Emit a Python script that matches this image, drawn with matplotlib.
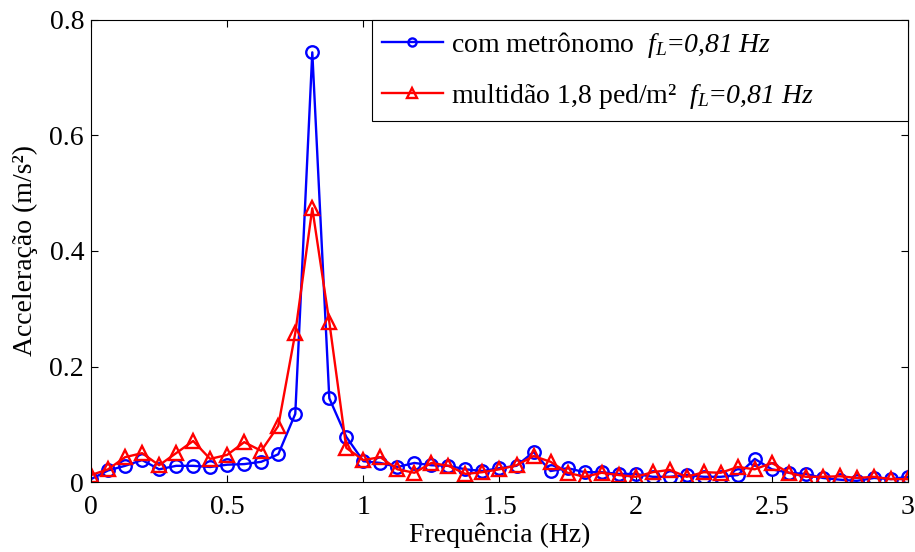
import matplotlib.pyplot as plt
import numpy as np

plt.rcParams['font.family'] = ['Liberation Serif', 'DejaVu Serif']
plt.rcParams['mathtext.fontset'] = 'custom'
plt.rcParams['mathtext.rm'] = 'Liberation Serif'
plt.rcParams['mathtext.it'] = 'Liberation Serif:italic'
# sf slot holds the italic face so that digits come out slanted as well
plt.rcParams['mathtext.sf'] = 'Liberation Serif:italic'

# frequency resolution 1/16 Hz, 0..3 Hz
freq = np.arange(49) * 0.0625

acc_metronomo = [0.005, 0.020, 0.028, 0.038, 0.022, 0.028, 0.028, 0.026, 0.030, 0.031,
                 0.035, 0.048, 0.118, 0.744, 0.145, 0.078, 0.036, 0.033, 0.026, 0.033,
                 0.029, 0.028, 0.022, 0.019, 0.024, 0.028, 0.052, 0.019, 0.024, 0.017,
                 0.017, 0.014, 0.014, 0.009, 0.009, 0.012, 0.009, 0.009, 0.012, 0.040,
                 0.022, 0.016, 0.014, 0.007, 0.004, 0.002, 0.007, 0.005, 0.009]

acc_multidao = [0.012, 0.022, 0.043, 0.050, 0.029, 0.050, 0.071, 0.040, 0.047, 0.069,
                0.054, 0.097, 0.258, 0.474, 0.277, 0.059, 0.038, 0.043, 0.022, 0.016,
                0.033, 0.028, 0.014, 0.017, 0.022, 0.029, 0.045, 0.035, 0.016, 0.009,
                0.016, 0.012, 0.009, 0.017, 0.021, 0.009, 0.017, 0.016, 0.026, 0.022,
                0.033, 0.016, 0.009, 0.009, 0.010, 0.007, 0.009, 0.005, 0.005]

lbl1 = r'com metrônomo  $f_L\!=\!\mathsf{0{,}81\ Hz}$'
lbl2 = r'multidão 1,8 ped/m²  $f_L\!=\!\mathsf{0{,}81\ Hz}$'

fig = plt.figure(figsize=(9.15, 5.52), dpi=100)
ax = fig.add_axes([0.0995, 0.1268, 0.8928, 0.837])

ax.plot(freq, acc_metronomo, '-o', color='blue', lw=1.7, ms=9,
        mfc='none', mew=1.7, label=lbl1)
ax.plot(freq, acc_multidao, '-^', color='red', lw=1.7, ms=10,
        mfc='none', mew=1.7, label=lbl2)

ax.set_xlim(0, 3)
ax.set_ylim(0, 0.8)
ax.set_xticks([0, 0.5, 1, 1.5, 2, 2.5, 3])
ax.set_xticklabels(['0', '0.5', '1', '1.5', '2', '2.5', '3'])
ax.set_yticks([0, 0.2, 0.4, 0.6, 0.8])
ax.set_yticklabels(['0', '0.2', '0.4', '0.6', '0.8'])
ax.tick_params(direction='in', top=True, right=True, labelsize=20, length=5, pad=5)
ax.tick_params(axis='x', pad=9)
ax.set_xlabel('Frequência (Hz)', fontsize=20, labelpad=2)
ax.set_ylabel('Acceleração (m/s²)', fontsize=20, labelpad=8)

leg = ax.legend(loc='upper left', bbox_to_anchor=(0.344, 0, 0.656, 1), mode='expand',
                fontsize=20, handlelength=2.2, handletextpad=0.3, markerscale=0.65,
                fancybox=False, framealpha=1, edgecolor='black',
                borderaxespad=0, borderpad=0.35, labelspacing=0.8)
leg.get_frame().set_linewidth(0.8)

fig.savefig('out.png', dpi=100)
